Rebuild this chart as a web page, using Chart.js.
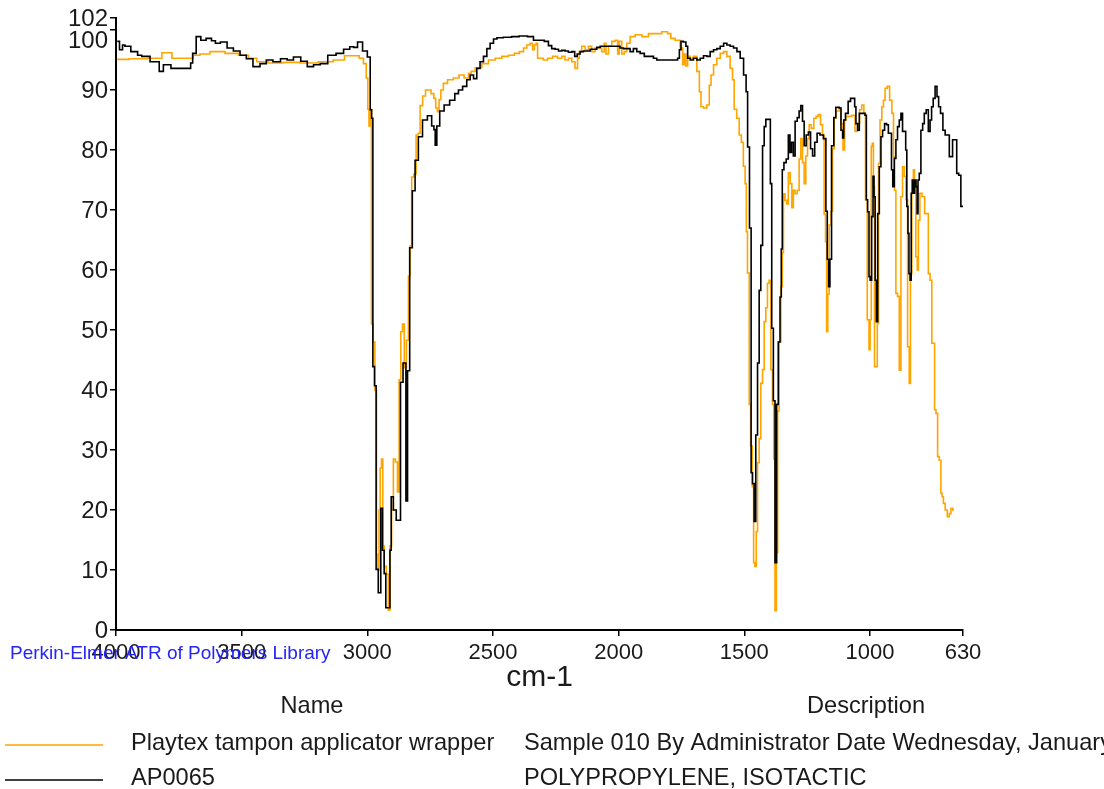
<!DOCTYPE html>
<html>
<head>
<meta charset="utf-8">
<script src="https://cdn.jsdelivr.net/npm/chart.js@4.4.1/dist/chart.umd.min.js"></script>
<style>
    html, body { margin: 0; padding: 0; background: #fff; }
    #wrap { width: 1104px; height: 789px; position: relative; }
</style>
</head>
<body>
<div id="wrap"><canvas id="espectro"></canvas></div>
<script>
// eixo x (cm-1) e marcas
const xTicks = [4000, 3500, 3000, 2500, 2000, 1500, 1000, 630];
const yTicks = [0, 10, 20, 30, 40, 50, 60, 70, 80, 90, 100, 102];

const nomes = ['Playtex tampon applicator wrapper', 'AP0065'];
const descricoes = ['Sample 010 By Administrator Date Wednesday, January', 'POLYPROPYLENE, ISOTACTIC'];

// amostra (laranja)
const amostraWn = [3995, 3900, 3850, 3785, 3770, 3706, 3679, 3653, 3599, 3533, 3493, 3453, 3427, 3361, 3308, 3228, 3162, 3109, 3073, 3042, 3022, 3009,
    3000, 2996, 2991, 2987, 2980, 2973, 2967, 2960, 2956, 2951, 2947, 2940, 2937, 2929, 2920, 2913, 2907, 2900, 2893, 2884, 2876, 2871, 2863, 2857, 2849, 2840, 2833, 2827, 2820, 2809, 2803, 2793, 2787, 2773, 2764, 2753,
    2740, 2731, 2725, 2718, 2711, 2704, 2691, 2671, 2645, 2625, 2605, 2590, 2584, 2558, 2531, 2505, 2478, 2452, 2425, 2405, 2385, 2372, 2359, 2346, 2339, 2332, 2326, 2319, 2306, 2293, 2273, 2253, 2233, 2220, 2207, 2193, 2180, 2167, 2160, 2154, 2140, 2127, 2114, 2101, 2087, 2074, 2061, 2054, 2047, 2034, 2021, 2007, 2001, 1994, 1981, 1974, 1961, 1948, 1921, 1895, 1868, 1842, 1815, 1796, 1789, 1762, 1749, 1742, 1736, 1729, 1722, 1709, 1696, 1682, 1676, 1669, 1656, 1643, 1636, 1629, 1616, 1603, 1589, 1576, 1563, 1550,
    1544, 1537, 1524, 1517, 1507, 1501, 1493, 1491, 1484, 1477, 1473, 1464, 1462, 1454, 1451, 1444, 1438, 1431, 1424, 1418, 1411, 1405, 1398, 1391, 1385, 1381, 1375, 1370, 1365, 1358, 1351, 1347, 1342, 1334, 1329, 1321, 1314, 1308, 1302, 1294, 1285, 1279, 1272, 1265, 1259, 1252, 1245, 1239, 1228, 1219, 1210, 1202, 1192, 1186, 1179, 1175, 1170, 1166, 1159, 1152, 1146, 1139, 1133, 1126,
    1119, 1112, 1103, 1099, 1092, 1079, 1066, 1053, 1046, 1037, 1029, 1020, 1016, 1006, 1002, 997, 993, 989, 984, 980, 973, 969, 963, 957, 949, 944, 936, 927, 917, 909, 904, 900, 894, 887, 880, 874, 867, 860, 854, 847, 841, 837, 830, 825, 821, 814, 810, 805, 798, 788, 777, 772, 764, 758, 750, 745, 741, 734, 728, 721, 715, 711, 705, 697, 688, 681, 675, 666];
const amostraT = [95.1, 95.2, 95.3, 96.2, 95.3, 95.3, 95.8, 96.0, 96.4, 96.1, 95.8, 95.3, 94.7, 94.5, 94.6, 94.5, 94.7, 95.0, 95.7, 95.7, 95.3, 94.4,
    92.0, 86.8, 84.0, 86.8, 51.0, 48.0, 40.0, 12.6, 10.0, 20.0, 27.0, 28.5, 14.0, 10.6, 9.3, 3.3, 14.0, 20.0, 28.5, 28.0, 23.0, 41.7, 49.7, 51.0, 43.7, 48.3, 59.0, 64.0, 75.5, 76.0, 82.5, 82.8, 87.4, 89.0, 90.0, 90.0,
    89.4, 88.6, 87.0, 86.4, 88.4, 90.0, 91.1, 91.7, 92.0, 92.5, 92.0, 92.8, 93.1, 93.7, 94.4, 95.0, 95.3, 95.6, 95.8, 96.1, 96.4, 97.0, 97.5, 97.8, 96.7, 97.5, 97.8, 95.3, 95.3, 95.0, 95.3, 95.6, 95.3, 95.6, 95.0, 95.3, 94.7, 93.6, 95.3, 96.4, 97.3, 96.7, 97.3, 96.4, 97.0, 97.0, 96.4, 97.8, 96.0, 97.3, 98.1, 98.3, 96.0, 98.1, 96.0, 96.4, 97.8, 98.9, 99.2, 98.9, 99.4, 99.4, 99.7, 99.4, 98.6, 98.3, 97.0, 94.2, 96.0, 94.0, 95.6, 95.3, 95.6, 93.1, 89.7, 87.2, 87.0, 87.5, 90.8, 92.5, 94.2, 95.3, 96.1, 96.4, 95.6, 93.6,
    91.7, 86.8, 85.3, 82.5, 81.3, 77.3, 74.4, 66.4, 59.5, 37.6, 30.7, 23.9, 11.2, 10.6, 16.4, 27.9, 31.9, 41.1, 43.4, 51.4, 53.7, 57.8, 58.3, 43.4, 37.6, 28.5, 3.2, 12.9, 36.5, 48.0, 57.2, 62.9, 72.7, 71.6, 71.0, 76.2, 74.4, 70.4, 73.3, 72.7, 73.3, 78.5, 81.9, 77.9, 74.4, 79.0, 81.9, 84.2, 83.6, 85.3, 85.6, 85.9, 84.2, 82.5, 69.3, 64.7, 49.7, 56.0, 67.5, 69.8, 80.2, 85.3, 86.5, 86.5,
    87.0, 84.4, 80.0, 85.0, 85.6, 85.6, 85.8, 83.1, 84.4, 86.7, 87.5, 86.1, 71.7, 51.7, 46.7, 51.7, 80.6, 81.1, 73.9, 43.9, 43.9, 51.1, 77.8, 85.0, 87.2, 88.3, 90.3, 90.6, 88.3, 86.1, 78.9, 73.3, 56.1, 55.6, 43.3, 72.2, 77.2, 75.6, 71.7, 47.2, 41.1, 59.4, 72.8, 76.7, 75.0, 62.2, 60.0, 68.3, 72.8, 72.2, 69.4, 69.4, 59.4, 58.3, 47.8, 47.8, 36.7, 36.1, 28.9, 28.3, 22.8, 22.2, 21.1, 20.0, 18.9, 19.4, 20.3, 20.0];

// referencia da biblioteca (preto)
const refWn = [3995, 3977, 3971, 3958, 3924, 3904, 3891, 3838, 3818, 3805, 3758, 3706, 3700, 3690, 3672, 3653, 3630, 3610, 3599, 3570, 3546, 3520, 3493, 3470, 3440, 3414, 3390, 3361, 3330, 3308, 3280, 3250, 3228, 3200, 3175, 3140, 3109, 3080, 3060, 3049, 3029, 3009,
    2991, 2986, 2980, 2976, 2967, 2963, 2950, 2943, 2936, 2930, 2923, 2913, 2907, 2903, 2890, 2880, 2870, 2866, 2850, 2843, 2837, 2826, 2816, 2804, 2790, 2771, 2751, 2737,
    2733, 2727, 2720, 2704, 2685, 2660, 2644, 2631, 2611, 2598, 2584, 2571, 2558, 2545, 2531, 2518, 2505, 2491, 2478, 2440, 2412, 2380, 2346, 2332, 2306, 2286, 2273, 2260, 2246, 2233, 2220, 2207, 2193, 2180, 2170, 2160, 2147, 2133, 2120, 2107, 2094, 2080, 2067, 2001, 1988, 1974, 1961, 1948, 1935, 1921, 1908, 1888, 1868, 1855, 1842, 1769, 1762, 1755, 1749, 1736, 1729, 1722, 1709, 1696, 1682, 1669, 1656, 1643, 1629, 1616, 1603, 1589, 1576, 1563, 1550, 1536, 1523, 1510,
    1496, 1490, 1484, 1475, 1471, 1464, 1458, 1451, 1444, 1438, 1431, 1424, 1418, 1411, 1398, 1395, 1387, 1382, 1374, 1369, 1361, 1355, 1351, 1347, 1338, 1329, 1321, 1316, 1308, 1302, 1294, 1285, 1279, 1272, 1265, 1259, 1249, 1241, 1232, 1225, 1215, 1206, 1192, 1179, 1172, 1168, 1162, 1157, 1149, 1139, 1133, 1126,
    1119, 1112, 1106, 1103, 1092, 1082, 1073, 1063, 1059, 1053, 1046, 1039, 1033, 1024, 1016, 1013, 1006, 1002, 997, 990, 986, 982, 977, 973, 966, 960, 953, 947, 937, 931, 923, 917, 912, 907, 900, 894, 887, 880, 874, 867, 860, 856, 851, 847, 843, 838, 834, 830, 825, 820, 814, 811, 807, 801, 794, 787, 781, 772, 764, 758, 752, 745, 737, 730, 724, 715, 705, 697, 688, 681, 675, 668, 658, 652, 642, 635, 630];
const refT = [98.1, 96.7, 97.5, 97.3, 96.4, 95.8, 95.6, 94.7, 93.1, 94.2, 93.6, 93.6, 94.5, 96.1, 98.9, 98.3, 98.6, 98.2, 97.8, 98.0, 97.0, 96.5, 95.8, 95.2, 93.9, 94.4, 95.0, 94.7, 95.2, 95.0, 95.5, 94.8, 93.9, 94.2, 94.4, 95.8, 96.1, 96.8, 97.2, 97.1, 98.0, 96.5,
    95.5, 86.7, 85.3, 43.9, 40.7, 10.1, 6.2, 20.3, 13.3, 9.4, 3.7, 3.7, 13.3, 22.2, 20.0, 18.3, 18.3, 41.3, 44.5, 21.5, 43.2, 63.7, 73.2, 78.3, 82.2, 85.0, 85.7, 84.0,
    83.4, 80.8, 84.0, 86.5, 87.5, 88.3, 89.4, 90.0, 90.6, 91.7, 92.5, 91.9, 93.6, 94.7, 95.6, 96.9, 97.8, 98.5, 98.7, 98.8, 98.9, 99.0, 98.9, 98.3, 98.3, 98.1, 97.4, 96.9, 96.8, 96.5, 96.6, 96.5, 96.3, 96.4, 95.6, 96.0, 96.4, 96.5, 96.5, 96.8, 96.8, 97.1, 97.3, 97.3, 97.0, 96.9, 96.9, 96.4, 96.9, 96.4, 96.1, 95.6, 95.6, 95.3, 95.0, 95.0, 95.3, 96.7, 98.1, 98.0, 97.3, 95.3, 95.0, 95.3, 95.0, 95.3, 95.7, 95.6, 96.4, 96.7, 96.9, 97.3, 97.8, 97.5, 97.3, 97.0, 96.4, 95.3,
    92.5, 89.7, 80.5, 67.0, 26.2, 24.4, 18.1, 32.5, 44.5, 56.6, 64.1, 80.7, 83.9, 85.1, 85.1, 74.4, 50.3, 38.2, 11.2, 37.6, 48.0, 55.5, 63.5, 76.7, 77.9, 78.5, 82.5, 79.6, 81.3, 79.0, 84.8, 85.4, 86.5, 87.4, 84.8, 80.7, 82.5, 83.0, 80.2, 79.0, 81.3, 82.8, 82.5, 81.9, 69.8, 61.8, 57.2, 61.8, 80.7, 85.4, 87.1, 87.1,
    87.0, 83.3, 82.0, 85.0, 86.1, 88.1, 88.6, 88.6, 87.2, 84.4, 83.3, 86.1, 86.1, 86.1, 85.8, 71.7, 69.7, 58.9, 58.3, 68.9, 75.6, 72.2, 58.3, 51.4, 69.4, 77.2, 82.2, 83.3, 84.4, 84.2, 82.8, 82.8, 76.7, 73.9, 78.6, 81.7, 83.9, 85.0, 86.1, 83.1, 83.1, 80.0, 70.6, 66.1, 59.4, 58.3, 72.8, 75.0, 72.8, 75.0, 73.9, 69.4, 75.0, 76.1, 83.3, 84.4, 86.1, 86.7, 83.1, 85.0, 87.2, 88.6, 90.6, 88.9, 87.2, 86.1, 83.3, 82.5, 82.5, 78.9, 78.9, 81.7, 81.7, 76.1, 75.8, 70.6, 70.6];

const fonte = 'Liberation Sans, Arial, sans-serif';
const corTexto = '#1a1a1a';

const pontos = (wn, t) => wn.map((x, i) => ({ x: x, y: t[i] }));

// rotulos do eixo y, cabecalho e tabela de nomes
const textosExtras = {
    id: 'textosExtras',
    afterDraw(chart) {
        const { ctx, chartArea, scales } = chart;
        ctx.save();

        ctx.fillStyle = corTexto;
        ctx.font = '24px ' + fonte;
        ctx.textAlign = 'right';
        ctx.textBaseline = 'middle';
        yTicks.forEach(v => {
            let y = scales.y.getPixelForValue(v);
            if (v === 100) y += 10;
            ctx.fillText(String(v), chartArea.left - 8, y + 1);
        });

        ctx.textAlign = 'center';
        ctx.font = '30px ' + fonte;
        ctx.fillText('cm-1', (chartArea.left + chartArea.right) / 2, 678);

        ctx.textAlign = 'left';
        ctx.fillStyle = '#2525f5';
        ctx.font = '19px ' + fonte;
        ctx.fillText('Perkin-Elmer ATR of Polymers Library', 10, 654);

        ctx.fillStyle = corTexto;
        ctx.font = '23.6px ' + fonte;
        ctx.textAlign = 'center';
        ctx.fillText('Name', 312, 706);
        ctx.fillText('Description', 866, 706);

        const linhas = [chart.data.datasets[1], chart.data.datasets[0]];
        linhas.forEach((ds, i) => {
            const y = 743 + i * 35;
            ctx.strokeStyle = ds.borderColor;
            ctx.lineWidth = 1.5;
            ctx.beginPath();
            ctx.moveTo(5, y + 2);
            ctx.lineTo(103, y + 2);
            ctx.stroke();

            ctx.textAlign = 'left';
            ctx.fillText(nomes[i], 131, y);
            ctx.fillText(descricoes[i], 524, y);
        });

        ctx.restore();
    }
};

const canvas = document.getElementById('espectro');

new Chart(canvas, {
    type: 'line',
    data: {
        datasets: [{
            label: nomes[1],
            data: pontos(refWn, refT),
            borderColor: '#000000',
            borderWidth: 1.6,
            pointRadius: 0,
            stepped: 'middle',
            order: 0
        }, {
            label: nomes[0],
            data: pontos(amostraWn, amostraT),
            borderColor: '#FFA500',
            borderWidth: 1.6,
            pointRadius: 0,
            stepped: 'middle',
            order: 1
        }]
    },
    options: {
        responsive: true,
        maintainAspectRatio: false,
        animation: false,
        layout: {
            padding: { left: 0, top: 18, right: 141, bottom: 0 }
        },
        plugins: {
            legend: { display: false },
            tooltip: { enabled: false }
        },
        scales: {
            x: {
                type: 'linear',
                reverse: true,
                min: 630,
                max: 4000,
                afterBuildTicks: scale => { scale.ticks = xTicks.map(v => ({ value: v })); },
                afterFit: scale => { scale.height = 159; },
                ticks: {
                    color: corTexto,
                    font: { family: fonte, size: 22 },
                    padding: 4,
                    maxRotation: 0,
                    autoSkip: false,
                    callback: v => String(v)
                },
                grid: {
                    drawOnChartArea: false,
                    drawTicks: true,
                    tickLength: 6,
                    color: '#000',
                    lineWidth: 1.5
                },
                border: { display: true, color: '#000', width: 2 }
            },
            y: {
                type: 'linear',
                min: 0,
                max: 102,
                afterBuildTicks: scale => { scale.ticks = yTicks.map(v => ({ value: v })); },
                afterFit: scale => { scale.width = 116; },
                ticks: { display: false },
                grid: {
                    drawOnChartArea: false,
                    drawTicks: true,
                    tickLength: 6,
                    color: '#000',
                    lineWidth: 1.5
                },
                border: { display: true, color: '#000', width: 2 }
            }
        }
    },
    plugins: [textosExtras]
});
</script>
</body>
</html>
